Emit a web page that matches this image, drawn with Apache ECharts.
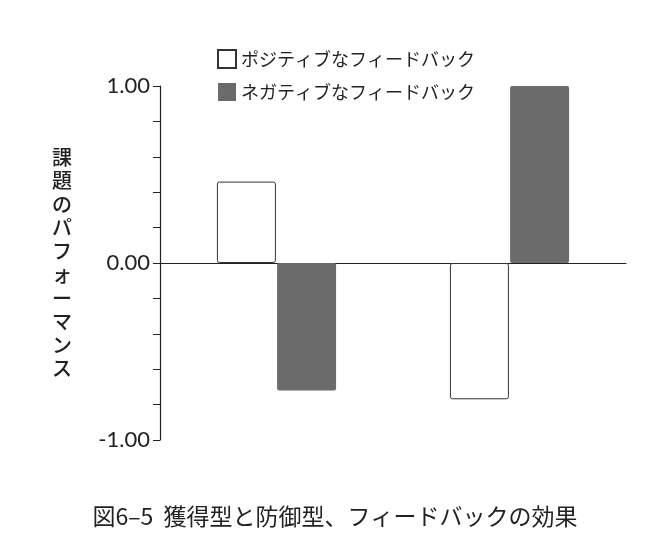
<!DOCTYPE html><html><head><meta charset="utf-8"><script src="https://cdn.jsdelivr.net/npm/echarts@6/dist/echarts.min.js"></script></head><body style="margin:0;background:#fff"><div id="c" style="width:670px;height:551px"></div><script>
const categories=['獲得型','防御型'];
const positive=[0.46,-0.77];
const negative=[-0.72,1.01];
const yTicks=[-1,0,1];
const F='"Noto Sans CJK JP"';
const chart=echarts.init(document.getElementById('c'));
chart.setOption({
 animation:false,
 title:{text:'図6–5  獲得型と防御型、フィードバックの効果',left:'center',top:500,textStyle:{fontFamily:F,fontSize:23,fontWeight:'normal',color:'#222'}},
 legend:{orient:'vertical',left:212,top:44,itemGap:14,itemWidth:18,itemHeight:18,icon:'rect',textStyle:{fontFamily:F,fontSize:18,color:'#222'},data:['ポジティブなフィードバック','ネガティブなフィードバック']},
 grid:{left:160,right:44,top:86,bottom:111,outerBoundsMode:'none',containLabel:false},
 xAxis:{type:'category',data:categories,axisLine:{onZero:true,lineStyle:{color:'#222',width:1.2}},axisTick:{show:false},axisLabel:{margin:148,fontFamily:F,fontSize:19,color:'#222'}},
 yAxis:{type:'value',min:-1,max:1,interval:0.2,name:'課\n題\nの\nパ\nフ\nォ\nー\nマ\nン\nス',nameLocation:'middle',nameRotate:0,nameGap:88,nameTextStyle:{fontFamily:F,fontSize:20,fontWeight:500,color:'#222',lineHeight:23.5},
  axisLine:{show:true,lineStyle:{color:'#222',width:1.2}},axisTick:{show:true,length:7,lineStyle:{color:'#222'}},splitLine:{show:false},
  axisLabel:{fontFamily:'Lato',fontSize:22,color:'#222',margin:10,formatter:v=>yTicks.some(t=>Math.abs(t-v)<1e-6)?v.toFixed(2):''}},
 series:[
  {name:'ポジティブなフィードバック',type:'bar',data:positive,barWidth:59,barGap:'2%',itemStyle:{color:'#fff',borderColor:'#333',borderWidth:1,borderRadius:2}},
  {name:'ネガティブなフィードバック',type:'bar',data:negative,barWidth:59,itemStyle:{color:'#6b6b6b',borderRadius:2}}
 ]
});
</script></body></html>
